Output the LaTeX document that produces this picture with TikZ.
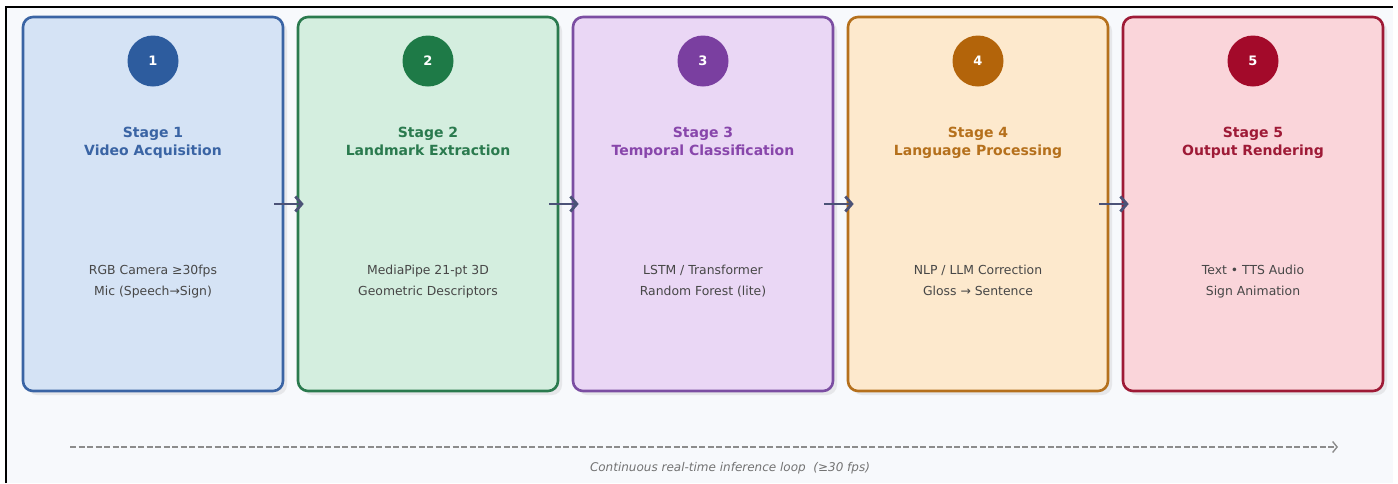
\documentclass[tikz,border=0pt]{standalone}
\usepackage{fontspec}
\newfontfamily\dv{DejaVu Sans}
\usetikzlibrary{arrows.meta,calc}
\definecolor{bgc}{HTML}{F7F9FC}
\definecolor{fA}{HTML}{D5E3F5}\definecolor{dA}{HTML}{3A64A4}\definecolor{cA}{HTML}{2D5C9E}
\definecolor{fB}{HTML}{D4EEDF}\definecolor{dB}{HTML}{2A7A4E}\definecolor{cB}{HTML}{1E7A47}
\definecolor{fC}{HTML}{EAD7F5}\definecolor{dC}{HTML}{7B4EA2}\definecolor{cC}{HTML}{7A3FA0}
\definecolor{fD}{HTML}{FDE9CD}\definecolor{dD}{HTML}{B5701C}\definecolor{cD}{HTML}{B3640A}
\definecolor{fE}{HTML}{FAD5DA}\definecolor{dE}{HTML}{9E1A36}\definecolor{cE}{HTML}{A30A2A}
\definecolor{arr}{HTML}{4B5277}
\definecolor{bodyc}{HTML}{474747}
\tikzset{
  stagebox/.style={draw=#1, line width=2.6pt, rounded corners=10pt, minimum width=260pt, minimum height=374pt, inner sep=0pt},
  shadowbox/.style={fill=black!40, opacity=0.18, rounded corners=10pt, minimum width=260pt, minimum height=374pt, inner sep=0pt},
  badge/.style={circle, fill=#1, minimum size=51pt, inner sep=0pt, text=white, font=\dv\bfseries\fontsize{13}{14}\selectfont},
  ttl/.style={text=#1, align=center, text height=11pt, text depth=3.5pt, font=\dv\bfseries\fontsize{14}{18}\selectfont},
  bodytxt/.style={text=bodyc, align=center, text height=9.5pt, text depth=3pt, font=\dv\fontsize{12.4}{21}\selectfont},
  flow/.style={draw=arr, line width=2.8pt, -{Straight Barb[length=6.5pt,width=15pt]}},
  loop/.style={draw=black!45, line width=1.4pt, dash pattern=on 6pt off 2.5pt, -{Straight Barb[length=4.5pt,width=11pt]}},
}
\begin{document}
\begin{tikzpicture}[x=1pt,y=-1pt]
\useasboundingbox (0,0) rectangle (1398,483);
\fill[white] (0,0) rectangle (1398,483);
\fill[bgc] (6,7) rectangle (1393,483);
\draw[black, line width=2pt] (6,483) -- (6,7) -- (1393,7);

\foreach \x in {153,428,703,978,1253}{
  \node[shadowbox] at (\x+4,208) {};
}
\node[stagebox=dA, fill=fA] (b1) at (153,204) {};
\node[stagebox=dB, fill=fB] (b2) at (428,204) {};
\node[stagebox=dC, fill=fC] (b3) at (703,204) {};
\node[stagebox=dD, fill=fD] (b4) at (978,204) {};
\node[stagebox=dE, fill=fE] (b5) at (1253,204) {};

\node[badge=cA] (n1) at (153,61) {1};
\node[badge=cB] (n2) at (428,61) {2};
\node[badge=cC] (n3) at (703,61) {3};
\node[badge=cD] (n4) at (978,61) {4};
\node[badge=cE] (n5) at (1253,61) {5};

\node[ttl=dA] (t1) at (153,152) {Stage 1\\Video Acquisition};
\node[ttl=dB] (t2) at (428,152) {Stage 2\\Landmark Extraction};
\node[ttl=dC!90!magenta] (t3) at (703,152) {Stage 3\\Temporal Classification};
\node[ttl=dD] (t4) at (978,152) {Stage 4\\Language Processing};
\node[ttl=dE] (t5) at (1253,152) {Stage 5\\Output Rendering};

\node[bodytxt] (d1) at (153,292) {RGB Camera ≥30fps\\Mic (Speech→Sign)};
\node[bodytxt] (d2) at (428,292) {MediaPipe 21-pt 3D\\Geometric Descriptors};
\node[bodytxt] (d3) at (703,292) {LSTM / Transformer\\Random Forest (lite)};
\node[bodytxt] (d4) at (978,292) {NLP / LLM Correction\\Gloss → Sentence};
\node[bodytxt] (d5) at (1253,292) {Text • TTS Audio\\Sign Animation};

\draw[flow] ([xshift=-10pt]b1.east) -- ([xshift=7pt]b2.west);
\draw[flow] ([xshift=-10pt]b2.east) -- ([xshift=7pt]b3.west);
\draw[flow] ([xshift=-10pt]b3.east) -- ([xshift=7pt]b4.west);
\draw[flow] ([xshift=-10pt]b4.east) -- ([xshift=7pt]b5.west);

\coordinate (ls) at (70,447);
\coordinate (le) at (1338,447);
\draw[loop] (ls) -- (le);
\node[text=black!55, font=\dv\itshape\fontsize{12}{14}\selectfont] (lbl) at (730,468) {Continuous real-time inference loop\ \ (≥30 fps)};
\end{tikzpicture}
\end{document}
